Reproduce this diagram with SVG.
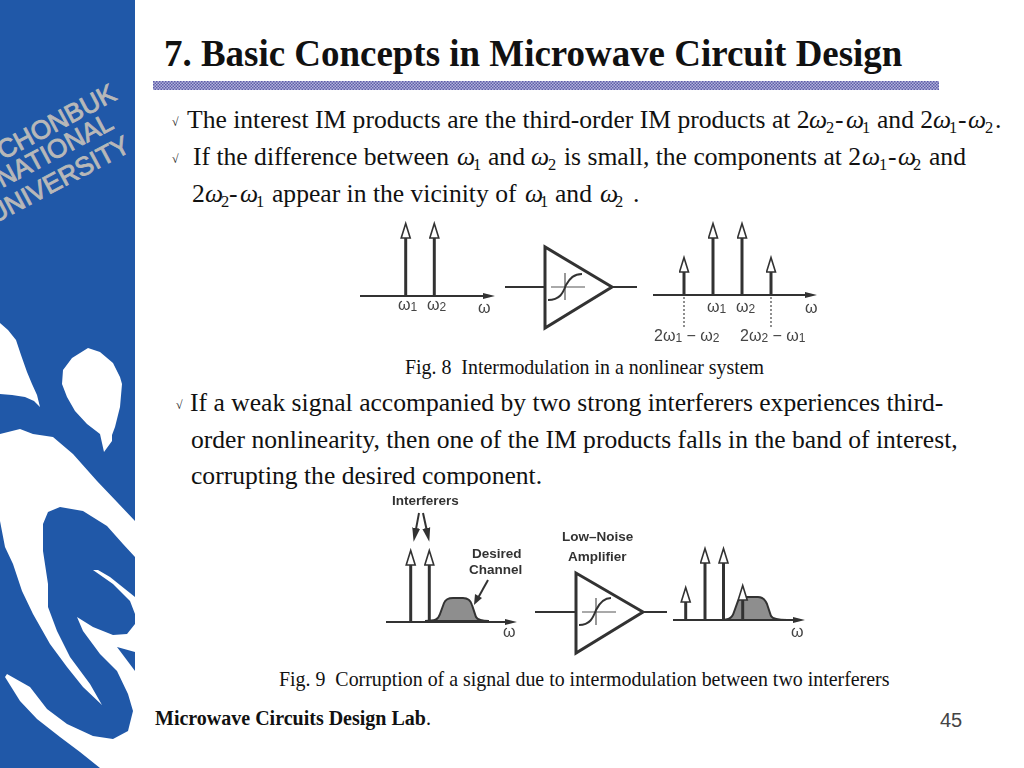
<svg xmlns="http://www.w3.org/2000/svg" width="1024" height="768" viewBox="0 0 1024 768">
<style>
text{white-space:pre}
.t{font-family:"Liberation Serif",serif;fill:#111}
.b{font-size:25.6px}
.i{font-style:italic}
.s{font-size:16.5px}
.c{font-size:12px}
.cap{font-size:19.9px}
.u{font-family:"Liberation Sans",sans-serif;font-size:26px;fill:#b8b8b8;stroke:#b8b8b8;stroke-width:.9}
.l{stroke:#333;stroke-width:2;fill:none}
.th{stroke:#333;stroke-width:3;fill:none}
.f{font-family:"Liberation Sans",sans-serif;fill:#444;font-size:16px}
.fb{font-family:"Liberation Sans",sans-serif;fill:#333;font-weight:bold;font-size:13.5px}
.hump{fill:#8e8e8e;stroke:#333;stroke-width:2}
</style>
<defs>
<pattern id="dith" width="3" height="3" patternUnits="userSpaceOnUse"><rect width="3" height="3" fill="#b4b4dc"/><rect width="1.5" height="1.5" fill="#5c5ca8"/><rect x="1.5" y="1.5" width="1.5" height="1.5" fill="#5c5ca8"/></pattern>
<marker id="open" markerWidth="18" markerHeight="12" refX="1" refY="5.5" orient="auto" markerUnits="userSpaceOnUse"><path d="M1 1L15.500 5.500L1 10Z" fill="#fff" stroke="#333" stroke-width="1.600"/></marker>
<marker id="solid" markerWidth="14" markerHeight="10" refX="1" refY="4" orient="auto" markerUnits="userSpaceOnUse"><path d="M0 1L12 4L0 7Z" fill="#333"/></marker>
<marker id="solid2" markerWidth="18" markerHeight="12" refX="1" refY="5" orient="auto" markerUnits="userSpaceOnUse"><path d="M0 1L14 5L0 9Z" fill="#333"/></marker>
<filter id="soft" filterUnits="userSpaceOnUse" x="0" y="0" width="1024" height="768"><feGaussianBlur stdDeviation="0.45"/></filter>
</defs>
<rect width="1024" height="768" fill="#fff"/>
<g id="sidebar">
<rect width="135" height="768" fill="#2058a8"/>
<g fill="#fff">
<path d="M0 323L8 330L16 340L21 355L27 372L32 384L37 395L40 407L34 401L25 397L12 395L0 394Z"/>
<path d="M62 384L63 370L72 358L88 348L100 352L113 363L120 377L122 384L120 407L115 427L112 435L112 441L104 452L100 434L87 424L75 411L67 397Z"/>
<path d="M0 434L20 429L33 434L53 437L73 454L97 481L117 502L135 521V557L123 544L107 526L83 511L60 507L48 512L43 524L43 551L48 584L48 607L57 631L70 657L90 684L102 705L83 687L67 667L50 644L33 614L22 591L13 564L5 547L0 521Z"/>
<path d="M93 570L98 570L110 577L135 597V614L130 601L113 584Z"/>
<path d="M77 617L93 627L113 635L127 634L135 624V652L117 647L135 671V768H100L80 752L60 737L37 719L20 701L5 677L7 674L30 687L47 709L67 724L93 736L113 739L128 731L133 711L128 694L117 671L100 654L83 631Z"/>
</g>
<text class="u" transform="translate(3 160) rotate(-28)">CHONBUK</text>
<text class="u" transform="translate(2 188) rotate(-28)">NATIONAL</text>
<text class="u" transform="translate(-6 224) rotate(-28)">UNIVERSITY</text>
</g>
<g id="title">
<text class="t" x="164" y="66" font-weight="bold" font-size="36.950">7. Basic Concepts in Microwave Circuit Design</text>
<rect x="153" y="81" width="786" height="9" fill="url(#dith)"/>
</g>
<g id="body">
<text class="t c" x="172" y="126">√</text>
<text class="t b" y="128"><tspan x="187">The interest IM products are the third-order IM products at 2</tspan><tspan class="i" x="809">ω</tspan><tspan class="s" x="826" dy="5">2</tspan><tspan x="835" dy="-5">-</tspan><tspan class="i" x="846">ω</tspan><tspan class="s" x="862" dy="5">1</tspan><tspan x="877" dy="-5">and 2</tspan><tspan class="i" x="933">ω</tspan><tspan class="s" x="949" dy="5">1</tspan><tspan x="958" dy="-5">-</tspan><tspan class="i" x="968">ω</tspan><tspan class="s" x="985" dy="5">2</tspan><tspan x="995" dy="-5">.</tspan></text>
<text class="t c" x="172" y="163">√</text>
<text class="t b" y="165"><tspan x="193">If the difference between </tspan><tspan class="i" x="457">ω</tspan><tspan class="s" x="473" dy="5">1</tspan><tspan x="488" dy="-5">and </tspan><tspan class="i" x="531">ω</tspan><tspan class="s" x="548" dy="5">2</tspan><tspan x="564" dy="-5">is small, the components at 2</tspan><tspan class="i" x="862">ω</tspan><tspan class="s" x="879" dy="5">1</tspan><tspan x="888" dy="-5">-</tspan><tspan class="i" x="898">ω</tspan><tspan class="s" x="913" dy="5">2</tspan><tspan x="929" dy="-5">and</tspan></text>
<text class="t b" y="202"><tspan x="192">2</tspan><tspan class="i" x="205">ω</tspan><tspan class="s" x="221" dy="5">2</tspan><tspan x="229" dy="-5">-</tspan><tspan class="i" x="240">ω</tspan><tspan class="s" x="256" dy="5">1</tspan><tspan x="272" dy="-5">appear in the vicinity of </tspan><tspan class="i" x="525">ω</tspan><tspan class="s" x="540" dy="5">1</tspan><tspan x="555" dy="-5">and </tspan><tspan class="i" x="600">ω</tspan><tspan class="s" x="615" dy="5">2</tspan><tspan x="633" dy="-5">.</tspan></text>
<text class="t cap" x="405" y="374">Fig. 8  Intermodulation in a nonlinear system</text>
<text class="t c" x="176" y="409">√</text>
<text class="t b" x="190" y="411">If a weak signal accompanied by two strong interferers experiences third-</text>
<text class="t b" x="191" y="448">order nonlinearity, then one of the IM products falls in the band of interest,</text>
<text class="t b" x="191" y="484">corrupting the desired component.</text>
<rect x="345" y="486" width="480" height="10" fill="#fff"/>
<text class="t cap" x="279" y="686">Fig. 9  Corruption of a signal due to intermodulation between two interferers</text>
</g>
<g id="fig8" filter="url(#soft)">
<g id="fig8-connectors">
<path class="l" d="M360 296H484" marker-end="url(#solid)"/>
<path class="th" d="M405.700 296V238" marker-end="url(#open)"/>
<path class="th" d="M434.300 296V238" marker-end="url(#open)"/>
<path class="l" d="M505 287H545M612 287H637"/>
<path class="l" d="M653 295H806" marker-end="url(#solid)"/>
<path class="th" d="M684 295V272" marker-end="url(#open)"/>
<path class="th" d="M713 295V238" marker-end="url(#open)"/>
<path class="th" d="M742 295V238" marker-end="url(#open)"/>
<path class="th" d="M771 295V272" marker-end="url(#open)"/>
<path d="M684 297V327M771 297V327" stroke="#444" stroke-width="1.200" stroke-dasharray="2 2" fill="none"/>
</g>
<g id="fig8-amp">
<path class="th" d="M545 247V328L612 287Z"/>
<path d="M551 287H585M565 273V300" stroke="#555" stroke-width="1.200" fill="none"/>
<path class="l" d="M548 300C560 300 563 293 566 285C570 278 574 274 582 274"/>
</g>
<g id="fig8-labels">
<text class="f" x="398" y="310">ω<tspan font-size="12" dy="1">1</tspan></text>
<text class="f" x="427" y="310">ω<tspan font-size="12" dy="1">2</tspan></text>
<text class="f" x="478" y="313">ω</text>
<text class="f" x="707" y="312">ω<tspan font-size="12" dy="1">1</tspan></text>
<text class="f" x="736" y="312">ω<tspan font-size="12" dy="1">2</tspan></text>
<text class="f" x="805" y="313">ω</text>
<text class="f" x="654" y="341">2ω<tspan font-size="12" dy="1">1</tspan><tspan dy="-1"> − ω</tspan><tspan font-size="12" dy="1">2</tspan></text>
<text class="f" x="740" y="341">2ω<tspan font-size="12" dy="1">2</tspan><tspan dy="-1"> − ω</tspan><tspan font-size="12" dy="1">1</tspan></text>
</g>
</g>
<g id="fig9" filter="url(#soft)">
<g id="fig9-left">
<path class="hump" d="M425 621C435 621 438 620 440 614L444 603Q446 598 453 598H463Q470 598 472 605L476 617Q478 621 489 621Z"/>
<path class="l" d="M386 622H506" marker-end="url(#solid)"/>
<path class="th" d="M410.700 622V565" marker-end="url(#open)"/>
<path class="th" d="M429.300 622V565" marker-end="url(#open)"/>
<path class="l" d="M419 513L416 529" marker-end="url(#solid2)"/>
<path class="l" d="M423 513L426.500 529" marker-end="url(#solid2)"/>
<path class="l" d="M488 580L478 598"/>
<path d="M474 605L475 594L482 598Z" fill="#333"/>
<text class="fb" x="392" y="505">Interferers</text>
<text class="fb" x="472" y="558">Desired</text>
<text class="fb" x="469" y="574">Channel</text>
<text class="f" x="503" y="637">ω</text>
</g>
<g id="fig9-amp">
<path class="th" d="M576 573V653L643 612Z"/>
<path class="l" d="M535 612H576M643 612H667"/>
<path d="M582 612H616M596 598V625" stroke="#555" stroke-width="1.200" fill="none"/>
<path class="l" d="M579 625C590 625 593 618 596 610C600 602 604 598 611 598"/>
<text class="fb" x="562" y="541">Low–Noise</text>
<text class="fb" x="568" y="561">Amplifier</text>
</g>
<g id="fig9-right">
<path class="hump" d="M718 620C728 620 732 619 734 612L738 601Q740 597 748 597H758Q764 597 767 604L771 616Q773 620 787 620Z"/>
<path class="l" d="M673 620H794" marker-end="url(#solid)"/>
<path class="th" d="M685.700 620V602" marker-end="url(#open)"/>
<path class="th" d="M705 620V563" marker-end="url(#open)"/>
<path class="th" d="M723.500 620V563" marker-end="url(#open)"/>
<path class="th" d="M742.700 620V600" marker-end="url(#open)"/>
<text class="f" x="791" y="637">ω</text>
</g>
</g>
<g id="footer">
<text class="t" x="155" y="725" font-size="20" font-weight="bold">Microwave Circuits Design Lab<tspan font-weight="normal">.</tspan></text>
<text x="940" y="727" font-family="Liberation Sans,sans-serif" font-size="20" fill="#444">45</text>
</g>
</svg>
